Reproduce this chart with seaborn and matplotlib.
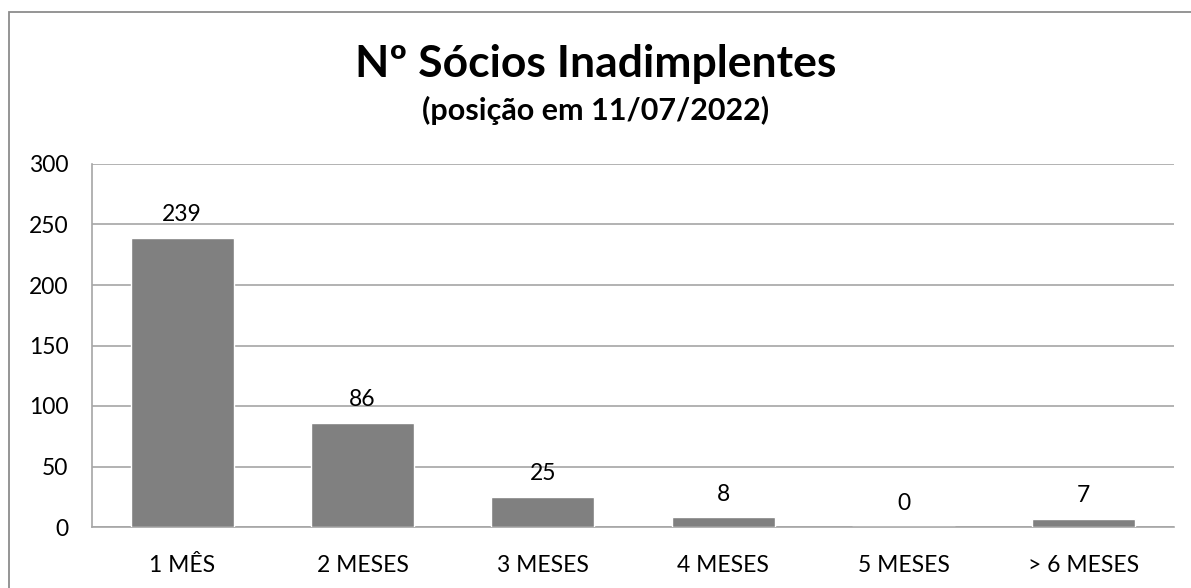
import matplotlib
matplotlib.use("Agg")
import matplotlib.pyplot as plt
from matplotlib.patches import Rectangle
import seaborn as sns
import pandas as pd

categories = ["1 MÊS", "2 MESES", "3 MESES", "4 MESES", "5 MESES", "> 6 MESES"]
socios = [239, 86, 25, 8, 0, 7]
yticks = [0, 50, 100, 150, 200, 250, 300]

sns.set_theme(style="white")
plt.rcParams["font.family"] = ["Lato", "DejaVu Sans"]

df = pd.DataFrame({"periodo": categories, "socios": socios})

fig = plt.figure(figsize=(11.91, 5.88), dpi=100)
ax = fig.add_axes([92 / 1191, 1 - 527 / 588, (1174 - 92) / 1191, (527 - 164) / 588])

sns.barplot(data=df, x="periodo", y="socios", color="#808080", saturation=1,
            width=0.57, ax=ax, zorder=3)

ax.set_ylim(0, 300)
ax.set_yticks(yticks)
ax.set_xlim(-0.5, len(categories) - 0.5)
ax.yaxis.grid(True, color="#A6A6A6", linewidth=1.2, zorder=0)
ax.set_axisbelow(True)
ax.set_xlabel("")
ax.set_ylabel("")
for side in ["top", "right"]:
    ax.spines[side].set_visible(False)
ax.spines["left"].set_color("#A6A6A6")
ax.spines["bottom"].set_color("#A6A6A6")
ax.spines["left"].set_linewidth(1.2)
ax.spines["bottom"].set_linewidth(1.2)
ax.tick_params(axis="both", length=0, labelsize=16.5, colors="black")
ax.tick_params(axis="x", pad=20)
ax.tick_params(axis="y", pad=17)

for i, v in enumerate(socios):
    ax.annotate(f"{v}", (i, v), xytext=(0, 9), textcoords="offset points",
                ha="center", va="bottom", fontsize=16.5, color="black")

fig.text(0.5, 1 - 77 / 588, "Nº Sócios Inadimplentes", ha="center", va="baseline",
         fontsize=32, fontweight="bold", color="black")
fig.text(0.5, 1 - 120 / 588, "(posição em 11/07/2022)", ha="center", va="baseline",
         fontsize=22, fontweight="bold", color="black")

fig.patches.append(Rectangle((9 / 1191, -0.05), 1.1, 1 - 12 / 588 + 0.05,
                             transform=fig.transFigure, fill=False,
                             edgecolor="#8C8C8C", linewidth=1.3))

fig.savefig("out.png", dpi=100, facecolor="white")
